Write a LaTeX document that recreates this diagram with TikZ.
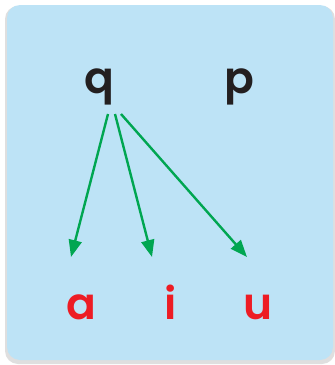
\documentclass[tikz,border=0pt]{standalone}
\usepackage{fontspec}
\setmainfont{Poppins}[BoldFont={Poppins SemiBold}]
\usetikzlibrary{arrows.meta}
\definecolor{boxblue}{HTML}{BDE3F6}
\definecolor{shadowgray}{HTML}{C9C9C9}
\definecolor{arrgreen}{HTML}{00A651}
\definecolor{letred}{HTML}{ED1C24}
\definecolor{letblack}{HTML}{231F20}
\tikzset{
  letter/.style={anchor=base, inner sep=0pt, font=\fontsize{44}{44}\selectfont\bfseries},
  blackletter/.style={letter, text=letblack},
  redletter/.style={letter, text=letred},
  arr/.style={draw=arrgreen, line width=2.4pt, -{Triangle[length=17pt,width=13pt]}}
}
\begin{document}
\begin{tikzpicture}[x=1pt,y=-1pt]
\useasboundingbox (0,0) rectangle (335,365);
\fill[shadowgray!60, rounded corners=13pt] (5,6) rectangle (335,364);
\fill[boxblue, rounded corners=13pt] (7,5) rectangle (333,360);
\node[blackletter] (q) at (99,93) {q};
\node[blackletter] (p) at (239.5,93) {p};
\node[redletter] (a) at (81.5,319) {a};
\node[redletter] (i) at (171,319) {i};
\node[redletter] (u) at (258,319) {u};
\coordinate (s1) at ([shift={(9,21)}]q.base);
\coordinate (s2) at ([shift={(16,21)}]q.base);
\coordinate (s3) at ([shift={(22,21)}]q.base);
\coordinate (t1) at ([shift={(-10.5,-62)}]a.base);
\coordinate (t2) at ([shift={(-19,-62)}]i.base);
\coordinate (t3) at ([shift={(-11,-62)}]u.base);
\draw[arr] (s1) -- (t1);
\draw[arr] (s2) -- (t2);
\draw[arr] (s3) -- (t3);
\end{tikzpicture}
\end{document}
